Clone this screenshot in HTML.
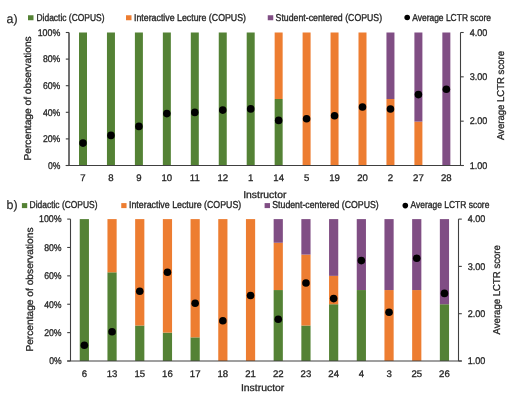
<!DOCTYPE html>
<html><head><meta charset="utf-8"><style>
html,body{margin:0;padding:0;background:#fff;}
body{width:519px;height:417px;overflow:hidden;}
svg{display:block;will-change:transform;text-rendering:geometricPrecision;font-family:"Liberation Sans", sans-serif;}
</style></head><body>
<svg width="519" height="417" viewBox="0 0 519 417">
<rect width="519" height="417" fill="#fff"/>
<rect x="79.00" y="32.50" width="8" height="133.00" fill="#548235"/>
<rect x="106.95" y="32.50" width="8" height="133.00" fill="#548235"/>
<rect x="134.90" y="32.50" width="8" height="133.00" fill="#548235"/>
<rect x="162.85" y="32.50" width="8" height="133.00" fill="#548235"/>
<rect x="190.80" y="32.50" width="8" height="133.00" fill="#548235"/>
<rect x="218.75" y="32.50" width="8" height="133.00" fill="#548235"/>
<rect x="246.70" y="32.50" width="8" height="133.00" fill="#548235"/>
<rect x="274.65" y="99.00" width="8" height="66.50" fill="#548235"/>
<rect x="274.65" y="32.50" width="8" height="66.50" fill="#ED7D31"/>
<rect x="302.60" y="32.50" width="8" height="133.00" fill="#ED7D31"/>
<rect x="330.55" y="32.50" width="8" height="133.00" fill="#ED7D31"/>
<rect x="358.50" y="32.50" width="8" height="133.00" fill="#ED7D31"/>
<rect x="386.45" y="99.00" width="8" height="66.50" fill="#ED7D31"/>
<rect x="386.45" y="32.50" width="8" height="66.50" fill="#804E84"/>
<rect x="414.40" y="121.61" width="8" height="43.89" fill="#ED7D31"/>
<rect x="414.40" y="32.50" width="8" height="89.11" fill="#804E84"/>
<rect x="442.35" y="32.50" width="8" height="133.00" fill="#804E84"/>
<path d="M69 32.5V165.5" stroke="#404040" stroke-width="1.5" fill="none"/>
<path d="M460.5 32.5V165.5" stroke="#404040" stroke-width="1.1" fill="none"/>
<path d="M65.8 165.50H69" stroke="#404040" stroke-width="1.1"/>
<path d="M65.8 138.90H69" stroke="#404040" stroke-width="1.1"/>
<path d="M65.8 112.30H69" stroke="#404040" stroke-width="1.1"/>
<path d="M65.8 85.70H69" stroke="#404040" stroke-width="1.1"/>
<path d="M65.8 59.10H69" stroke="#404040" stroke-width="1.1"/>
<path d="M65.8 32.50H69" stroke="#404040" stroke-width="1.1"/>
<path d="M460.5 165.50H463.7" stroke="#404040" stroke-width="1.1"/>
<path d="M460.5 121.17H463.7" stroke="#404040" stroke-width="1.1"/>
<path d="M460.5 76.83H463.7" stroke="#404040" stroke-width="1.1"/>
<path d="M460.5 32.50H463.7" stroke="#404040" stroke-width="1.1"/>
<path d="M65.8 165.5H463.7" stroke="#404040" stroke-width="1.1"/>
<circle cx="83.00" cy="143.1" r="3.8" fill="#000"/>
<circle cx="110.95" cy="135.4" r="3.8" fill="#000"/>
<circle cx="138.90" cy="126.4" r="3.8" fill="#000"/>
<circle cx="166.85" cy="113.6" r="3.8" fill="#000"/>
<circle cx="194.80" cy="112.4" r="3.8" fill="#000"/>
<circle cx="222.75" cy="110.1" r="3.8" fill="#000"/>
<circle cx="250.70" cy="108.9" r="3.8" fill="#000"/>
<circle cx="278.65" cy="120.4" r="3.8" fill="#000"/>
<circle cx="306.60" cy="118.8" r="3.8" fill="#000"/>
<circle cx="334.55" cy="115.7" r="3.8" fill="#000"/>
<circle cx="362.50" cy="107.0" r="3.8" fill="#000"/>
<circle cx="390.45" cy="109.0" r="3.8" fill="#000"/>
<circle cx="418.40" cy="94.6" r="3.8" fill="#000"/>
<circle cx="446.35" cy="89.2" r="3.8" fill="#000"/>
<text x="47.9" y="168.8" font-size="9.7" textLength="12.4" lengthAdjust="spacingAndGlyphs" fill="#262626" stroke="#262626" stroke-width="0.3">0%</text>
<text x="42.9" y="142.20000000000002" font-size="9.7" textLength="17.4" lengthAdjust="spacingAndGlyphs" fill="#262626" stroke="#262626" stroke-width="0.3">20%</text>
<text x="42.9" y="115.6" font-size="9.7" textLength="17.4" lengthAdjust="spacingAndGlyphs" fill="#262626" stroke="#262626" stroke-width="0.3">40%</text>
<text x="42.9" y="89.0" font-size="9.7" textLength="17.4" lengthAdjust="spacingAndGlyphs" fill="#262626" stroke="#262626" stroke-width="0.3">60%</text>
<text x="42.9" y="62.39999999999999" font-size="9.7" textLength="17.4" lengthAdjust="spacingAndGlyphs" fill="#262626" stroke="#262626" stroke-width="0.3">80%</text>
<text x="37.699999999999996" y="35.8" font-size="9.7" textLength="22.6" lengthAdjust="spacingAndGlyphs" fill="#262626" stroke="#262626" stroke-width="0.3">100%</text>
<text x="469.8" y="168.8" font-size="9.7" textLength="17.6" lengthAdjust="spacingAndGlyphs" fill="#262626" stroke="#262626" stroke-width="0.3">1.00</text>
<text x="469.8" y="124.46666666666665" font-size="9.7" textLength="17.6" lengthAdjust="spacingAndGlyphs" fill="#262626" stroke="#262626" stroke-width="0.3">2.00</text>
<text x="469.8" y="80.13333333333333" font-size="9.7" textLength="17.6" lengthAdjust="spacingAndGlyphs" fill="#262626" stroke="#262626" stroke-width="0.3">3.00</text>
<text x="469.8" y="35.8" font-size="9.7" textLength="17.6" lengthAdjust="spacingAndGlyphs" fill="#262626" stroke="#262626" stroke-width="0.3">4.00</text>
<text x="83.0" y="181.4" font-size="9.6" text-anchor="middle" fill="#262626" stroke="#262626" stroke-width="0.3">7</text>
<text x="110.95" y="181.4" font-size="9.6" text-anchor="middle" fill="#262626" stroke="#262626" stroke-width="0.3">8</text>
<text x="138.9" y="181.4" font-size="9.6" text-anchor="middle" fill="#262626" stroke="#262626" stroke-width="0.3">9</text>
<text x="166.85" y="181.4" font-size="9.6" text-anchor="middle" fill="#262626" stroke="#262626" stroke-width="0.3">10</text>
<text x="194.8" y="181.4" font-size="9.6" text-anchor="middle" fill="#262626" stroke="#262626" stroke-width="0.3">11</text>
<text x="222.75" y="181.4" font-size="9.6" text-anchor="middle" fill="#262626" stroke="#262626" stroke-width="0.3">12</text>
<text x="250.7" y="181.4" font-size="9.6" text-anchor="middle" fill="#262626" stroke="#262626" stroke-width="0.3">1</text>
<text x="278.65" y="181.4" font-size="9.6" text-anchor="middle" fill="#262626" stroke="#262626" stroke-width="0.3">14</text>
<text x="306.6" y="181.4" font-size="9.6" text-anchor="middle" fill="#262626" stroke="#262626" stroke-width="0.3">5</text>
<text x="334.54999999999995" y="181.4" font-size="9.6" text-anchor="middle" fill="#262626" stroke="#262626" stroke-width="0.3">19</text>
<text x="362.5" y="181.4" font-size="9.6" text-anchor="middle" fill="#262626" stroke="#262626" stroke-width="0.3">20</text>
<text x="390.45" y="181.4" font-size="9.6" text-anchor="middle" fill="#262626" stroke="#262626" stroke-width="0.3">2</text>
<text x="418.4" y="181.4" font-size="9.6" text-anchor="middle" fill="#262626" stroke="#262626" stroke-width="0.3">27</text>
<text x="446.34999999999997" y="181.4" font-size="9.6" text-anchor="middle" fill="#262626" stroke="#262626" stroke-width="0.3">28</text>
<text x="243.2" y="197.65" font-size="10" textLength="43.2" lengthAdjust="spacingAndGlyphs" fill="#262626" stroke="#262626" stroke-width="0.3">Instructor</text>
<text transform="translate(31.0,160.5) rotate(-90)" font-size="10" textLength="124.2" lengthAdjust="spacingAndGlyphs" fill="#262626" stroke="#262626" stroke-width="0.3">Percentage of observations</text>
<text transform="translate(503.6,140.1) rotate(-90)" font-size="10" textLength="89.1" lengthAdjust="spacingAndGlyphs" fill="#262626" stroke="#262626" stroke-width="0.3">Average LCTR score</text>
<rect x="28" y="15.25" width="5.5" height="5" fill="#548235"/>
<rect x="126" y="15.25" width="5.5" height="5" fill="#ED7D31"/>
<rect x="267.75" y="15.25" width="5.5" height="5" fill="#804E84"/>
<circle cx="407.2" cy="17.5" r="2.8" fill="#000"/>
<text x="36.5" y="20.6" font-size="10.0" textLength="68" lengthAdjust="spacingAndGlyphs" fill="#262626" stroke="#262626" stroke-width="0.35">Didactic (COPUS)</text>
<text x="134" y="20.6" font-size="10.0" textLength="112" lengthAdjust="spacingAndGlyphs" fill="#262626" stroke="#262626" stroke-width="0.35">Interactive Lecture (COPUS)</text>
<text x="275.6" y="20.6" font-size="10.0" textLength="106.5" lengthAdjust="spacingAndGlyphs" fill="#262626" stroke="#262626" stroke-width="0.35">Student-centered (COPUS)</text>
<text x="412.25" y="20.6" font-size="10.0" textLength="78.75" lengthAdjust="spacingAndGlyphs" fill="#262626" stroke="#262626" stroke-width="0.35">Average LCTR score</text>
<text x="6.5" y="22.5" font-size="12.4" fill="#262626" stroke="#262626" stroke-width="0.15">a)</text>
<rect x="79.75" y="219.10" width="9.2" height="141.90" fill="#548235"/>
<rect x="107.45" y="272.31" width="9.2" height="88.69" fill="#548235"/>
<rect x="107.45" y="219.10" width="9.2" height="53.21" fill="#ED7D31"/>
<rect x="135.15" y="325.52" width="9.2" height="35.48" fill="#548235"/>
<rect x="135.15" y="219.10" width="9.2" height="106.43" fill="#ED7D31"/>
<rect x="162.85" y="332.62" width="9.2" height="28.38" fill="#548235"/>
<rect x="162.85" y="219.10" width="9.2" height="113.52" fill="#ED7D31"/>
<rect x="190.55" y="337.35" width="9.2" height="23.65" fill="#548235"/>
<rect x="190.55" y="219.10" width="9.2" height="118.25" fill="#ED7D31"/>
<rect x="218.25" y="219.10" width="9.2" height="141.90" fill="#ED7D31"/>
<rect x="245.95" y="219.10" width="9.2" height="141.90" fill="#ED7D31"/>
<rect x="273.65" y="290.05" width="9.2" height="70.95" fill="#548235"/>
<rect x="273.65" y="242.75" width="9.2" height="47.30" fill="#ED7D31"/>
<rect x="273.65" y="219.10" width="9.2" height="23.65" fill="#804E84"/>
<rect x="301.35" y="325.52" width="9.2" height="35.48" fill="#548235"/>
<rect x="301.35" y="254.57" width="9.2" height="70.95" fill="#ED7D31"/>
<rect x="301.35" y="219.10" width="9.2" height="35.48" fill="#804E84"/>
<rect x="329.05" y="304.24" width="9.2" height="56.76" fill="#548235"/>
<rect x="329.05" y="275.86" width="9.2" height="28.38" fill="#ED7D31"/>
<rect x="329.05" y="219.10" width="9.2" height="56.76" fill="#804E84"/>
<rect x="356.75" y="290.05" width="9.2" height="70.95" fill="#548235"/>
<rect x="356.75" y="219.10" width="9.2" height="70.95" fill="#804E84"/>
<rect x="384.45" y="290.05" width="9.2" height="70.95" fill="#ED7D31"/>
<rect x="384.45" y="219.10" width="9.2" height="70.95" fill="#804E84"/>
<rect x="412.15" y="290.05" width="9.2" height="70.95" fill="#ED7D31"/>
<rect x="412.15" y="219.10" width="9.2" height="70.95" fill="#804E84"/>
<rect x="439.85" y="304.24" width="9.2" height="56.76" fill="#548235"/>
<rect x="439.85" y="219.10" width="9.2" height="85.14" fill="#804E84"/>
<path d="M70.5 219.1V361.0" stroke="#404040" stroke-width="1.1" fill="none"/>
<path d="M458.5 219.1V361.0" stroke="#404040" stroke-width="1.1" fill="none"/>
<path d="M67.2 361.00H70.5" stroke="#404040" stroke-width="1.1"/>
<path d="M67.2 332.62H70.5" stroke="#404040" stroke-width="1.1"/>
<path d="M67.2 304.24H70.5" stroke="#404040" stroke-width="1.1"/>
<path d="M67.2 275.86H70.5" stroke="#404040" stroke-width="1.1"/>
<path d="M67.2 247.48H70.5" stroke="#404040" stroke-width="1.1"/>
<path d="M67.2 219.10H70.5" stroke="#404040" stroke-width="1.1"/>
<path d="M458.5 361.00H461.8" stroke="#404040" stroke-width="1.1"/>
<path d="M458.5 313.70H461.8" stroke="#404040" stroke-width="1.1"/>
<path d="M458.5 266.40H461.8" stroke="#404040" stroke-width="1.1"/>
<path d="M458.5 219.10H461.8" stroke="#404040" stroke-width="1.1"/>
<path d="M67.2 361.0H461.8" stroke="#404040" stroke-width="1.1"/>
<circle cx="84.35" cy="345.2" r="3.8" fill="#000"/>
<circle cx="112.05" cy="331.7" r="3.8" fill="#000"/>
<circle cx="139.75" cy="291.3" r="3.8" fill="#000"/>
<circle cx="167.45" cy="272.3" r="3.8" fill="#000"/>
<circle cx="195.15" cy="303.2" r="3.8" fill="#000"/>
<circle cx="222.85" cy="320.8" r="3.8" fill="#000"/>
<circle cx="250.55" cy="295.5" r="3.8" fill="#000"/>
<circle cx="278.25" cy="319.2" r="3.8" fill="#000"/>
<circle cx="305.95" cy="283.0" r="3.8" fill="#000"/>
<circle cx="333.65" cy="298.6" r="3.8" fill="#000"/>
<circle cx="361.35" cy="260.6" r="3.8" fill="#000"/>
<circle cx="389.05" cy="312.2" r="3.8" fill="#000"/>
<circle cx="416.75" cy="258.2" r="3.8" fill="#000"/>
<circle cx="444.45" cy="293.4" r="3.8" fill="#000"/>
<text x="49.2" y="364.3" font-size="9.7" textLength="12.4" lengthAdjust="spacingAndGlyphs" fill="#262626" stroke="#262626" stroke-width="0.3">0%</text>
<text x="44.2" y="335.92" font-size="9.7" textLength="17.4" lengthAdjust="spacingAndGlyphs" fill="#262626" stroke="#262626" stroke-width="0.3">20%</text>
<text x="44.2" y="307.54" font-size="9.7" textLength="17.4" lengthAdjust="spacingAndGlyphs" fill="#262626" stroke="#262626" stroke-width="0.3">40%</text>
<text x="44.2" y="279.16" font-size="9.7" textLength="17.4" lengthAdjust="spacingAndGlyphs" fill="#262626" stroke="#262626" stroke-width="0.3">60%</text>
<text x="44.2" y="250.78" font-size="9.7" textLength="17.4" lengthAdjust="spacingAndGlyphs" fill="#262626" stroke="#262626" stroke-width="0.3">80%</text>
<text x="39.0" y="222.4" font-size="9.7" textLength="22.6" lengthAdjust="spacingAndGlyphs" fill="#262626" stroke="#262626" stroke-width="0.3">100%</text>
<text x="467.8" y="364.3" font-size="9.7" textLength="17.6" lengthAdjust="spacingAndGlyphs" fill="#262626" stroke="#262626" stroke-width="0.3">1.00</text>
<text x="467.8" y="317.0" font-size="9.7" textLength="17.6" lengthAdjust="spacingAndGlyphs" fill="#262626" stroke="#262626" stroke-width="0.3">2.00</text>
<text x="467.8" y="269.7" font-size="9.7" textLength="17.6" lengthAdjust="spacingAndGlyphs" fill="#262626" stroke="#262626" stroke-width="0.3">3.00</text>
<text x="467.8" y="222.4" font-size="9.7" textLength="17.6" lengthAdjust="spacingAndGlyphs" fill="#262626" stroke="#262626" stroke-width="0.3">4.00</text>
<text x="84.35" y="376.8" font-size="9.6" text-anchor="middle" fill="#262626" stroke="#262626" stroke-width="0.3">6</text>
<text x="112.05" y="376.8" font-size="9.6" text-anchor="middle" fill="#262626" stroke="#262626" stroke-width="0.3">13</text>
<text x="139.75" y="376.8" font-size="9.6" text-anchor="middle" fill="#262626" stroke="#262626" stroke-width="0.3">15</text>
<text x="167.45" y="376.8" font-size="9.6" text-anchor="middle" fill="#262626" stroke="#262626" stroke-width="0.3">16</text>
<text x="195.14999999999998" y="376.8" font-size="9.6" text-anchor="middle" fill="#262626" stroke="#262626" stroke-width="0.3">17</text>
<text x="222.85" y="376.8" font-size="9.6" text-anchor="middle" fill="#262626" stroke="#262626" stroke-width="0.3">18</text>
<text x="250.54999999999998" y="376.8" font-size="9.6" text-anchor="middle" fill="#262626" stroke="#262626" stroke-width="0.3">21</text>
<text x="278.25" y="376.8" font-size="9.6" text-anchor="middle" fill="#262626" stroke="#262626" stroke-width="0.3">22</text>
<text x="305.95" y="376.8" font-size="9.6" text-anchor="middle" fill="#262626" stroke="#262626" stroke-width="0.3">23</text>
<text x="333.65" y="376.8" font-size="9.6" text-anchor="middle" fill="#262626" stroke="#262626" stroke-width="0.3">24</text>
<text x="361.35" y="376.8" font-size="9.6" text-anchor="middle" fill="#262626" stroke="#262626" stroke-width="0.3">4</text>
<text x="389.04999999999995" y="376.8" font-size="9.6" text-anchor="middle" fill="#262626" stroke="#262626" stroke-width="0.3">3</text>
<text x="416.75" y="376.8" font-size="9.6" text-anchor="middle" fill="#262626" stroke="#262626" stroke-width="0.3">25</text>
<text x="444.44999999999993" y="376.8" font-size="9.6" text-anchor="middle" fill="#262626" stroke="#262626" stroke-width="0.3">26</text>
<text x="240.9" y="390.9" font-size="10" textLength="43.4" lengthAdjust="spacingAndGlyphs" fill="#262626" stroke="#262626" stroke-width="0.3">Instructor</text>
<text transform="translate(32.9,351.6) rotate(-90)" font-size="10" textLength="124.10000000000002" lengthAdjust="spacingAndGlyphs" fill="#262626" stroke="#262626" stroke-width="0.3">Percentage of observations</text>
<text transform="translate(500.0,334.4) rotate(-90)" font-size="10" textLength="89.19999999999999" lengthAdjust="spacingAndGlyphs" fill="#262626" stroke="#262626" stroke-width="0.3">Average LCTR score</text>
<rect x="21.9" y="203.1" width="5.3" height="5" fill="#548235"/>
<rect x="121.25" y="203.1" width="5.3" height="5" fill="#ED7D31"/>
<rect x="264.6" y="203.1" width="5.4" height="5" fill="#804E84"/>
<circle cx="405.3" cy="205.6" r="2.8" fill="#000"/>
<text x="29.6" y="208.4" font-size="10.0" textLength="67.9" lengthAdjust="spacingAndGlyphs" fill="#262626" stroke="#262626" stroke-width="0.35">Didactic (COPUS)</text>
<text x="129" y="208.4" font-size="10.0" textLength="112.25" lengthAdjust="spacingAndGlyphs" fill="#262626" stroke="#262626" stroke-width="0.35">Interactive Lecture (COPUS)</text>
<text x="272.25" y="208.4" font-size="10.0" textLength="106.5" lengthAdjust="spacingAndGlyphs" fill="#262626" stroke="#262626" stroke-width="0.35">Student-centered (COPUS)</text>
<text x="410.6" y="208.4" font-size="10.0" textLength="78.8" lengthAdjust="spacingAndGlyphs" fill="#262626" stroke="#262626" stroke-width="0.35">Average LCTR score</text>
<text x="6.5" y="208.8" font-size="12.4" fill="#262626" stroke="#262626" stroke-width="0.15">b)</text>
</svg>
</body></html>
